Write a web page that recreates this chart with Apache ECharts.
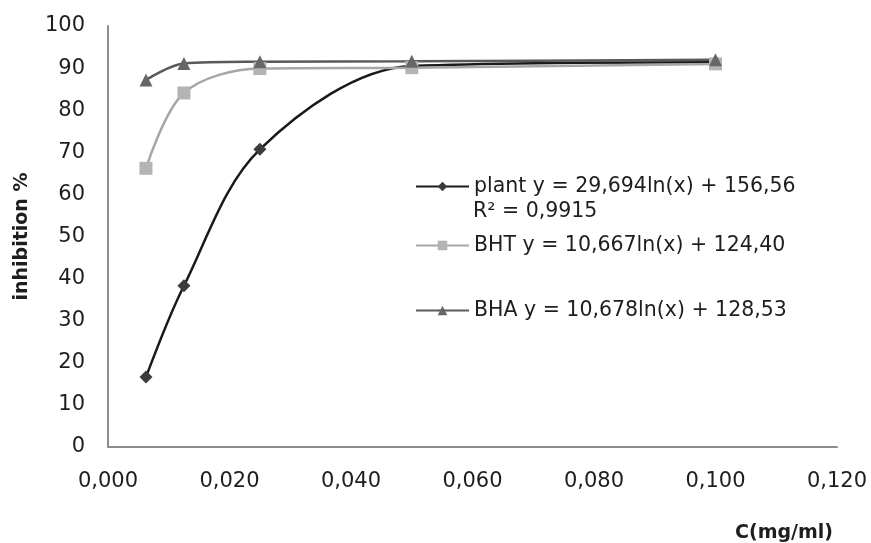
<!DOCTYPE html>
<html>
<head>
<meta charset="utf-8">
<script src="https://cdn.jsdelivr.net/npm/echarts@6/dist/echarts.min.js"></script>
<style>
  html, body { margin: 0; padding: 0; background: #fff; }
  #chart { width: 871px; height: 543px; }
</style>
</head>
<body>
<div id="chart"></div>
<script>
// concentrations (mg/ml)
var conc = [0.00625, 0.0125, 0.025, 0.05, 0.1];
// inhibition %
var plantVals = [16.6, 38.3, 70.7, 90.5, 91.4];
var bhtVals = [66.2, 84.1, 89.9, 90.1, 91.0];
var bhaVals = [87.2, 91.1, 91.5, 91.6, 92.0];

var seriesNames = ['plant', 'BHT', 'BHA'];
var legendTexts = [
  'plant y = 29,694ln(x) + 156,56',
  'BHT y = 10,667ln(x) + 124,40',
  'BHA y = 10,678ln(x) + 128,53'
];
var r2Text = 'R² = 0,9915';

var font = 'DejaVu Sans';
var smoothness = 0.33;

function pairs(vals) {
  return conc.map(function (c, i) { return [c, vals[i]]; });
}

var chart = echarts.init(document.getElementById('chart'));

function legendAt(name, top) {
  return {
    data: [name],
    orient: 'vertical',
    left: 410,
    top: top,
    itemWidth: 53,
    itemHeight: 12,
    selectedMode: false,
    formatter: function (n) { return legendTexts[seriesNames.indexOf(n)]; },
    textStyle: { fontFamily: font, fontSize: 20.5, color: '#1e1e1e' }
  };
}

chart.setOption({
  animation: false,
  grid: { left: 108, right: 34, top: 26, bottom: 95 },
  legend: [
    legendAt('plant', 171),
    legendAt('BHT', 230),
    legendAt('BHA', 295)
  ],
  graphic: [{
    type: 'text',
    left: 473,
    top: 201,
    style: { text: r2Text, fontFamily: font, fontSize: 20.5, fill: '#1e1e1e' }
  }],
  xAxis: {
    type: 'value',
    min: 0,
    max: 0.12,
    interval: 0.02,
    name: 'C(mg/ml)',
    nameLocation: 'end',
    nameGap: -4,
    nameTextStyle: {
      fontFamily: font, fontSize: 19, fontWeight: 'bold', color: '#1e1e1e',
      align: 'right', verticalAlign: 'top', padding: [77, 0, 0, 0]
    },
    axisLine: { lineStyle: { color: '#8c8c8c', width: 2 } },
    axisTick: { show: false },
    splitLine: { show: false },
    axisLabel: {
      margin: 24,
      fontFamily: font, fontSize: 21, color: '#1e1e1e',
      formatter: function (v) { return v.toFixed(3).replace('.', ','); }
    }
  },
  yAxis: {
    type: 'value',
    min: 0,
    max: 100,
    interval: 10,
    name: 'inhibition %',
    nameLocation: 'middle',
    nameGap: 76,
    nameTextStyle: { fontFamily: font, fontSize: 19, fontWeight: 'bold', color: '#1e1e1e' },
    axisLine: { show: true, lineStyle: { color: '#8c8c8c', width: 2 } },
    axisTick: { show: false },
    splitLine: { show: false },
    axisLabel: { margin: 23, fontFamily: font, fontSize: 21, color: '#1e1e1e' }
  },
  series: [{
    name: 'plant',
    type: 'line',
    smooth: smoothness,
    data: pairs(plantVals),
    symbol: 'diamond',
    symbolSize: 13,
    lineStyle: { color: '#1a1a1a', width: 2.5 },
    itemStyle: { color: '#3c3c3c' }
  }, {
    name: 'BHT',
    type: 'line',
    smooth: smoothness,
    data: pairs(bhtVals),
    symbol: 'rect',
    symbolSize: 13,
    lineStyle: { color: '#a6a6a6', width: 2.5 },
    itemStyle: { color: '#b4b4b4' }
  }, {
    name: 'BHA',
    type: 'line',
    smooth: smoothness,
    data: pairs(bhaVals),
    symbol: 'triangle',
    symbolSize: 13,
    lineStyle: { color: '#595959', width: 2.5 },
    itemStyle: { color: '#666666' }
  }]
});
</script>
</body>
</html>
